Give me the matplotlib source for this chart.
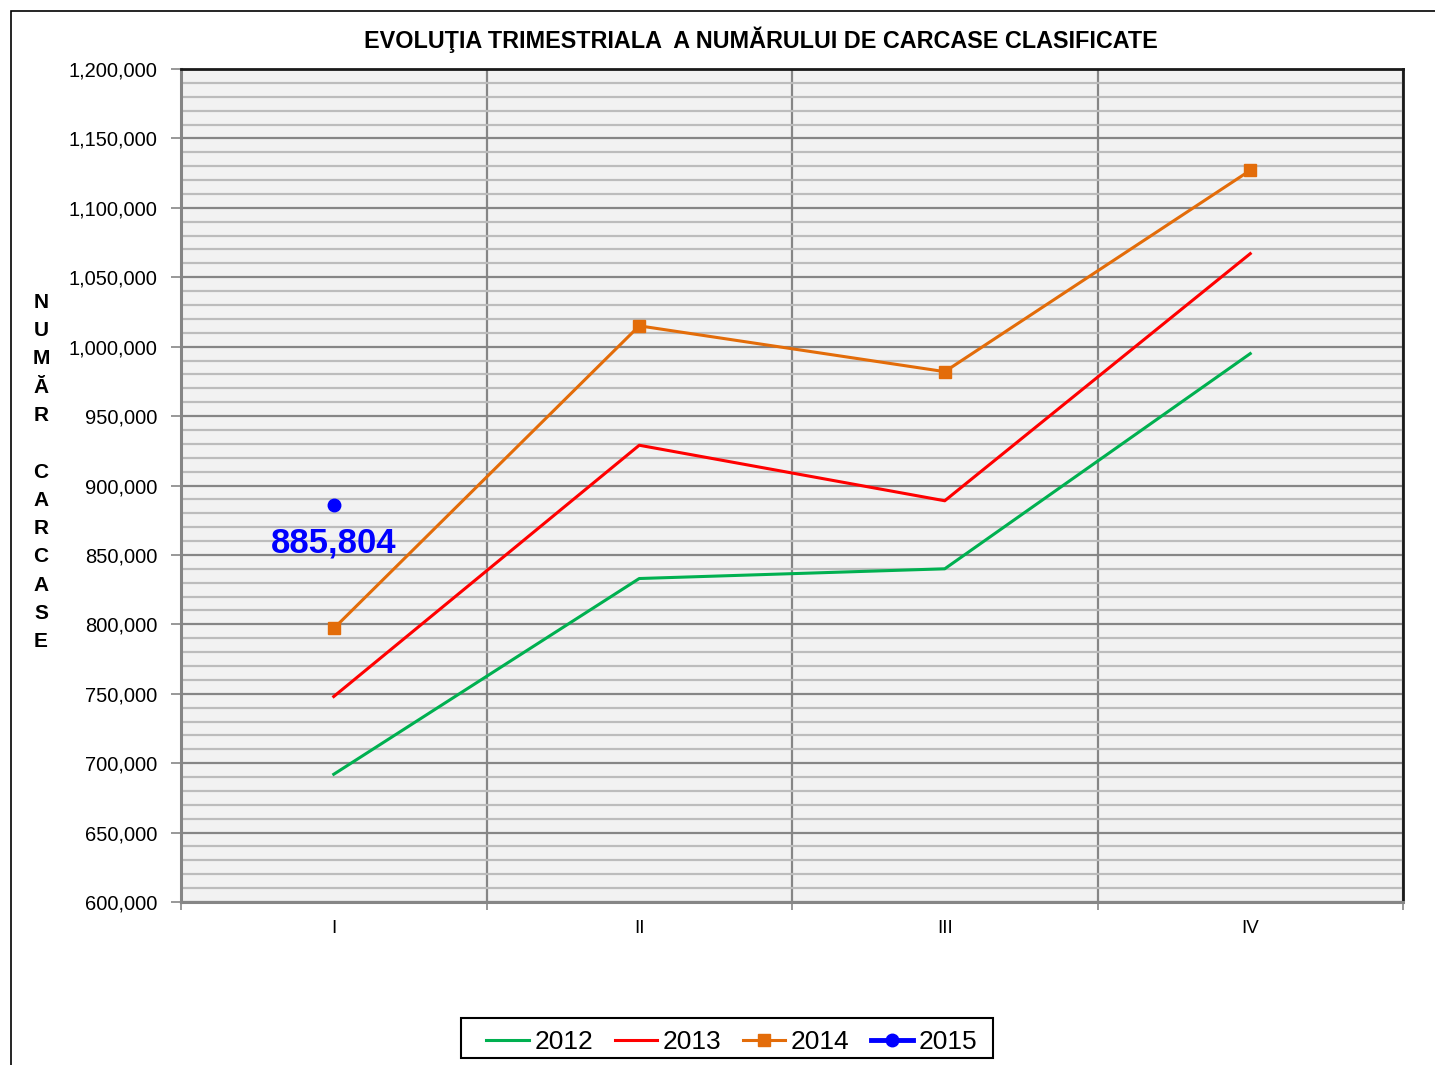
import matplotlib
matplotlib.use("Agg")
import matplotlib.pyplot as plt
from matplotlib.ticker import MultipleLocator, FuncFormatter, FixedLocator
from matplotlib.patches import Rectangle

plt.rcParams['font.family'] = ['Liberation Sans', 'DejaVu Sans']

quarters = ["I", "II", "III", "IV"]
s2012 = [692000, 833000, 840000, 995000]
s2013 = [748000, 929000, 889000, 1067000]
s2014 = [797000, 1015000, 982000, 1127000]
s2015 = [885804]
label_2015 = "885,804"

fig = plt.figure(figsize=(14.35, 10.65), dpi=100)
W, H = 1435, 1065
# chart-area border
fig.patches.append(Rectangle((11 / W, -0.05), 1.2, (1065 - 11) / H + 0.05,
                             transform=fig.transFigure, fill=False,
                             edgecolor='black', linewidth=1.2))
# legend frame
fig.patches.append(Rectangle((461 / W, 1 - 1058 / H), (993 - 461) / W, 40 / H,
                             transform=fig.transFigure, fill=False,
                             edgecolor='black', linewidth=1.5))

ax = fig.add_axes([181 / W, 1 - 902 / H, (1403 - 181) / W, (902 - 69) / H])
ax.set_facecolor('#f2f2f2')

x = list(range(len(quarters)))
ax.plot(x, s2012, color='#00b050', lw=2.2, label='2012', zorder=3)
ax.plot(x, s2013, color='#ff0000', lw=2.2, label='2013', zorder=3)
ax.plot(x, s2014, color='#e36c09', lw=2.2, marker='s', ms=9, label='2014', zorder=3)
ax.plot(x[:1], s2015, color='#0000ff', lw=3.5, marker='o', ms=9, label='2015', zorder=4)
ax.text(0, s2015[0] - 27000, label_2015, color='#0000ff', fontsize=25,
        fontweight='bold', ha='center', va='center', zorder=5)

ax.set_xlim(-0.5, 3.5)
ax.set_ylim(600000, 1200000)
ax.yaxis.set_major_locator(MultipleLocator(50000))
ax.yaxis.set_minor_locator(MultipleLocator(10000))
ax.yaxis.set_major_formatter(FuncFormatter(lambda v, p: f"{int(v):,}"))
ax.set_xticks(x)
ax.set_xticklabels(quarters)
ax.xaxis.set_minor_locator(FixedLocator([-0.5, 0.5, 1.5, 2.5, 3.5]))

ax.grid(which='major', axis='y', color='#868686', lw=1.6, zorder=1)
ax.grid(which='minor', axis='y', color='#bcbcbc', lw=1.6, zorder=1)
ax.grid(which='minor', axis='x', color='#868686', lw=1.6, zorder=1)
ax.set_axisbelow(True)

ax.tick_params(axis='y', which='major', direction='out', length=7, width=1.2,
               color='#868686', labelsize=14.5, pad=10)
ax.tick_params(axis='y', which='minor', length=0)
ax.tick_params(axis='x', which='major', length=0, labelsize=13.5, pad=13)
ax.tick_params(axis='x', which='minor', direction='out', length=6, width=1.2,
               color='#868686')

for side in ['left', 'bottom']:
    ax.spines[side].set_color('#868686')
    ax.spines[side].set_linewidth(2.2)
ax.spines['top'].set_color('#1a1a1a')
ax.spines['top'].set_linewidth(2)
ax.spines['right'].set_color('#1a1a1a')
ax.spines['right'].set_linewidth(2)

fig.text(761 / W, 1 - 40 / H, "EVOLUŢIA TRIMESTRIALA  A NUMĂRULUI DE CARCASE CLASIFICATE",
         ha='center', va='center', fontsize=16.8, fontweight='bold')

ylabel = "\n".join(list("NUMĂR")) + "\n\n" + "\n".join(list("CARCASE"))
fig.text(41 / W, 1 - 472 / H, ylabel, ha='center', va='center', fontsize=15,
         fontweight='bold', linespacing=1.62)

leg = fig.legend(loc='center', bbox_to_anchor=(732 / W, 1 - 1042 / H), ncol=4,
                 fontsize=19, frameon=False,
                 handlelength=1.6, handletextpad=0.23, columnspacing=0.8,
                 borderpad=0.3)

fig.savefig("out.png", dpi=100)
